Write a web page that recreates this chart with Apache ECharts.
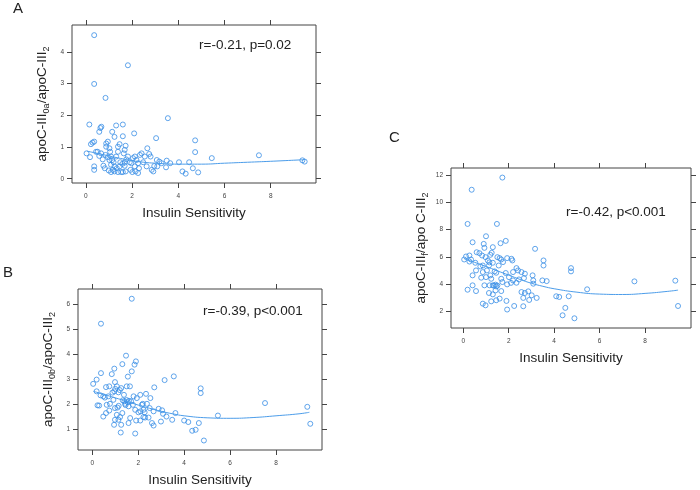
<!DOCTYPE html>
<html>
<head>
<meta charset="utf-8">
<script src="https://cdn.jsdelivr.net/npm/echarts@6/dist/echarts.min.js"></script>
<style>html,body{margin:0;padding:0;background:#fff}#c{width:700px;height:490px}</style>
</head>
<body>
<div id="c"></div>
<script>
// ---- data ----
const xTicks = [0, 2, 4, 6, 8];
const yTicksA = [0, 1, 2, 3, 4];
const yTicksB = [1, 2, 3, 4, 5, 6];
const yTicksC = [2, 4, 6, 8, 10, 12];

const pointsA = [
[0.36,4.53],[1.82,3.58],[0.36,2.99],[0.85,2.55],[3.55,1.91],[0.15,1.71],[0.63,1.6],[0.67,1.64],[1.31,1.68],[1.6,1.71],
[1.14,1.48],[1.24,1.32],[1.6,1.34],[2.09,1.43],[0.58,1.48],[3.04,1.28],[4.73,1.21],[4.73,0.84],[5.45,0.65],[7.49,0.74],
[9.37,0.58],[9.47,0.54],[0.03,0.8],[0.18,0.68],[0.22,1.09],[0.29,1.14],[0.36,1.17],[0.51,0.85],[0.36,0.39],[0.36,0.28],
[0.58,0.72],[0.73,0.61],[0.76,0.41],[0.82,0.33],[0.88,1.01],[0.88,1.11],[0.95,1.17],[1.02,0.96],[1.05,0.85],[1.09,0.7],
[1.14,0.59],[1.09,0.44],[1.09,0.21],[1.24,0.23],[1.31,0.7],[1.39,0.85],[1.39,1.01],[1.46,1.09],[1.46,0.39],[1.39,0.21],
[1.53,0.21],[1.6,0.21],[1.64,0.8],[1.68,0.91],[1.72,1.04],[1.68,0.51],[1.75,0.61],[1.82,0.7],[1.9,0.52],[1.93,0.28],
[2.01,0.21],[2.12,0.39],[2.15,0.23],[2.12,0.7],[2.19,0.59],[2.26,0.18],[2.34,0.75],[2.41,0.8],[2.48,0.52],[2.63,0.39],
[2.66,0.96],[2.74,0.78],[2.8,0.7],[2.85,0.28],[2.92,0.23],[3.07,0.59],[3.09,0.39],[3.18,0.54],[3.5,0.57],[3.47,0.36],
[3.65,0.49],[4.03,0.52],[4.18,0.23],[4.32,0.16],[4.47,0.52],[4.63,0.33],[4.86,0.2],
[0.44,0.85],[0.66,0.8],[0.85,0.75],[0.95,0.68],[1.02,0.59],[1.2,0.52],[1.24,0.39],[1.34,0.33],[1.49,0.52],[1.58,0.47],
[1.68,0.41],[0.99,0.26],[1.17,0.28],[1.72,0.23],[1.97,0.49],[2.04,0.65],[2.26,0.49],[2.3,0.33],[2.55,0.7],[2.96,0.4],[3.28,0.49]
];
const curveA = [[0.05,0.87],[0.5,0.8],[1,0.72],[1.5,0.64],[2,0.57],[2.5,0.52],[3,0.49],[4,0.46],[5,0.46],[6,0.49],[7,0.52],[8,0.55],[9.45,0.6]];

const pointsB = [
[1.72,6.21],[0.38,5.21],[1.47,3.93],[1.9,3.7],[1.84,3.57],[1.72,3.3],[1.31,3.59],[0.96,3.41],[0.38,3.23],[0.85,3.19],
[1.55,3.09],[3.15,2.95],[3.55,3.1],[0.04,2.8],[0.19,2.97],[0.99,2.87],[1.07,2.7],[0.6,2.67],[0.74,2.7],[1.5,2.7],
[1.64,2.7],[1.26,2.63],[4.72,2.62],[4.72,2.43],[2.7,2.66],[0.19,2.5],[0.36,2.34],[0.48,2.3],[0.7,2.3],[0.96,2.5],
[1.14,2.46],[2.09,2.36],[2.34,2.4],[1.94,2.23],[2.53,2.23],[0.23,1.94],[0.63,1.96],[0.77,2.0],[0.92,2.16],[1.15,1.92],
[1.33,2.14],[1.43,2.0],[1.55,2.06],[1.58,1.9],[1.69,2.1],[1.77,1.96],[1.87,1.76],[2.16,1.96],[2.38,2.0],[2.23,1.76],
[2.5,1.83],[2.67,1.7],[2.89,1.8],[3.04,1.74],[3.08,1.6],[0.48,1.49],[0.6,1.63],[0.99,1.83],[1.07,1.56],[1.14,1.36],
[1.21,1.47],[1.31,1.63],[0.99,1.36],[0.95,1.16],[1.26,1.16],[1.58,1.23],[1.65,1.43],[1.91,1.33],[2.09,1.33],[2.23,1.47],
[2.28,1.66],[2.6,1.23],[2.67,1.13],[2.99,1.29],[3.23,1.49],[3.48,1.36],[3.62,1.63],[4.0,1.33],[4.18,1.27],[4.35,0.92],
[4.5,0.96],[4.64,1.23],[4.86,0.53],[5.47,1.53],[7.52,2.03],[9.36,1.88],[9.49,1.2],[1.24,0.85],[1.87,0.81],[1.8,2.3],
[2.01,1.66],[0.74,1.73],[1.38,2.36],[1.4,2.1],[1.5,2.15],[1.6,2.12],[1.45,1.95],[0.88,2.45],[0.3,1.93],[1.1,1.85],
[2.2,2.0],[2.1,1.7],[1.2,2.55],[0.55,2.25],[1.0,2.6],[2.45,1.45],[2.3,1.45]
];
const curveB = [[0.05,2.5],[0.5,2.38],[1,2.24],[1.5,2.1],[2,1.95],[2.5,1.82],[3,1.7],[3.5,1.6],[4,1.52],[5,1.44],[6,1.42],[7,1.45],[8,1.52],[9,1.6],[9.45,1.66]];

const pointsC = [
[1.72,11.8],[0.37,10.91],[0.19,8.41],[1.48,8.41],[1.0,7.51],[1.87,7.17],[0.41,7.07],[1.64,7.0],[0.9,6.95],[1.3,6.71],
[0.93,6.66],[3.16,6.59],[0.59,6.34],[0.71,6.27],[1.19,6.15],[0.27,6.1],[0.12,6.03],[0.04,5.81],[0.34,5.81],[0.53,5.57],
[0.27,5.66],[0.83,6.1],[0.98,5.98],[1.5,5.98],[1.6,5.91],[1.67,5.81],[1.75,5.62],[1.93,5.91],[2.12,5.86],[2.16,5.74],
[1.08,5.74],[1.13,5.37],[0.86,5.37],[1.3,5.57],[1.56,5.37],[3.53,5.74],[3.53,5.37],[0.56,5.01],[0.86,4.89],[1.04,5.01],
[1.38,4.94],[1.45,4.84],[1.87,4.82],[2.19,4.89],[2.34,5.18],[2.41,5.01],[2.56,4.89],[2.71,4.77],[4.74,5.18],[4.74,4.94],
[0.79,4.48],[1.0,4.52],[1.23,4.4],[1.67,4.4],[2.01,4.52],[2.19,4.28],[2.45,4.35],[2.67,4.45],[3.05,4.65],[3.08,4.28],
[3.08,4.04],[3.48,4.28],[3.67,4.23],[0.41,3.92],[0.19,3.6],[0.56,3.5],[0.93,3.92],[1.16,3.92],[1.3,3.92],[1.42,3.97],
[1.45,3.84],[1.72,4.16],[1.93,3.99],[2.34,4.11],[2.56,3.43],[2.71,3.36],[2.86,3.48],[3.01,3.19],[3.23,3.0],[2.64,3.0],
[1.42,3.55],[1.67,3.5],[1.13,3.36],[1.3,3.26],[1.6,2.95],[0.86,2.58],[0.98,2.46],[1.23,2.75],[1.9,2.78],[1.93,2.15],
[2.24,2.41],[2.64,2.39],[4.09,3.12],[4.22,3.07],[4.64,3.12],[4.49,2.27],[4.37,1.73],[4.89,1.51],[5.45,3.63],[7.53,4.21],
[9.33,4.26],[9.45,2.41],[0.41,4.65],[1.19,4.65],[1.45,2.83],[1.35,3.9],[1.5,3.9],[0.75,5.3],[1.15,5.6],[1.25,6.3],
[2.1,4.1],[2.9,2.85]
];
const curveC = [[0.05,5.85],[0.5,5.6],[1,5.3],[1.5,4.98],[2,4.67],[2.5,4.35],[3,4.07],[3.5,3.85],[4,3.67],[5,3.42],[6,3.28],[7,3.25],[8,3.33],[9,3.48],[9.45,3.57]];

const xTitle = 'Insulin Sensitivity';
const yTitleA = '{m|apoC-III}{s|0a}{m|/apoC-III}{s|2}';
const yTitleB = '{m|apoC-III}{s|0b}{m|/apoC-III}{s|2}';
const yTitleC = '{m|apoC-III}{s|f}{m|/apo C-III}{s|2}';
const statA = 'r=-0.21, p=0.02';
const statB = 'r=-0.39, p<0.001';
const statC = 'r=-0.42, p<0.001';
const panelLetters = ['A', 'B', 'C'];

// ---- chart ----
const FONT = '"Liberation Sans", Arial, sans-serif';
const PT = '#3a8fe6';
const LINE = '#4c9dea';
const TXT = '#222';

const panels = [
  {grid:{left:72, top:25, width:244, height:158}, xr:[-0.6, 9.96], yr:[-0.135, 4.85], yt:yTicksA, name:yTitleA, pts:pointsA, cur:curveA},
  {grid:{left:78, top:289, width:244, height:161}, xr:[-0.62, 10.0], yr:[0.15, 6.6], yt:yTicksB, name:yTitleB, pts:pointsB, cur:curveB},
  {grid:{left:451, top:168, width:240, height:160}, xr:[-0.54, 10.02], yr:[0.8, 12.5], yt:yTicksC, name:yTitleC, pts:pointsC, cur:curveC}
];

const grids = [], xAxes = [], yAxes = [], series = [];
const tick = {show:true, inside:false, length:5, lineStyle:{color:'#444', width:1}};
const noLine = {show:false, onZero:false};
panels.forEach((p, i) => {
  grids.push(Object.assign({show:true, borderColor:'#444', borderWidth:1, backgroundColor:'transparent'}, p.grid));
  const baseX = {type:'value', gridIndex:i, min:p.xr[0], max:p.xr[1], splitLine:{show:false}, axisLine:noLine};
  const baseY = {type:'value', gridIndex:i, min:p.yr[0], max:p.yr[1], splitLine:{show:false}, axisLine:noLine};
  xAxes.push(Object.assign({}, baseX, {
    position:'bottom',
    axisTick:Object.assign({}, tick, {customValues:xTicks}),
    axisLabel:{customValues:xTicks, fontSize:6.5, color:'#444', margin:10, fontFamily:FONT},
    name:xTitle, nameLocation:'middle', nameGap:23,
    nameTextStyle:{fontSize:13.5, color:TXT, fontFamily:FONT}
  }));
  yAxes.push(Object.assign({}, baseY, {
    position:'left',
    axisTick:Object.assign({}, tick, {customValues:p.yt}),
    axisLabel:{customValues:p.yt, fontSize:6.5, color:'#444', margin:8, fontFamily:FONT},
    name:p.name, nameLocation:'middle', nameRotate:90, nameGap:21,
    nameTextStyle:{
      fontFamily:FONT, color:TXT,
      rich:{
        m:{fontSize:13.5, lineHeight:18, color:TXT, fontFamily:FONT},
        s:{fontSize:9, lineHeight:9, verticalAlign:'bottom', color:TXT, fontFamily:FONT}
      }
    }
  }));
});
panels.forEach((p, i) => {
  xAxes.push({type:'value', gridIndex:i, min:p.xr[0], max:p.xr[1], splitLine:{show:false}, axisLine:noLine,
    position:'top', axisTick:Object.assign({}, tick, {customValues:xTicks}), axisLabel:{show:false}});
  yAxes.push({type:'value', gridIndex:i, min:p.yr[0], max:p.yr[1], splitLine:{show:false}, axisLine:noLine,
    position:'right', axisTick:Object.assign({}, tick, {customValues:p.yt}), axisLabel:{show:false}});
});
panels.forEach((p, i) => {
  series.push({
    type:'scatter', xAxisIndex:i, yAxisIndex:i, data:p.pts, symbol:'circle', symbolSize:5,
    itemStyle:{color:'rgba(0,0,0,0)', borderColor:PT, borderWidth:1}, silent:true, animation:false
  });
  series.push({
    type:'line', xAxisIndex:i, yAxisIndex:i, data:p.cur, smooth:true, showSymbol:false,
    lineStyle:{color:LINE, width:1}, silent:true, animation:false
  });
});

const titleStyle = {fontSize:13.5, fontWeight:'normal', color:TXT, fontFamily:FONT};
const letterStyle = {fontSize:15, fontWeight:'normal', color:TXT, fontFamily:FONT};
const titles = [
  {text:statA, left:199, top:38, padding:0, textStyle:titleStyle},
  {text:statB, left:203, top:304, padding:0, textStyle:titleStyle},
  {text:statC, left:566, top:205, padding:0, textStyle:titleStyle},
  {text:panelLetters[0], left:13, top:1, padding:0, textStyle:letterStyle},
  {text:panelLetters[1], left:3, top:265, padding:0, textStyle:letterStyle},
  {text:panelLetters[2], left:389, top:130, padding:0, textStyle:letterStyle}
];

const chart = echarts.init(document.getElementById('c'), null, {renderer:'canvas'});
chart.setOption({
  animation:false,
  backgroundColor:'#fff',
  title:titles,
  grid:grids,
  xAxis:xAxes,
  yAxis:yAxes,
  series:series
});
</script>
</body>
</html>
